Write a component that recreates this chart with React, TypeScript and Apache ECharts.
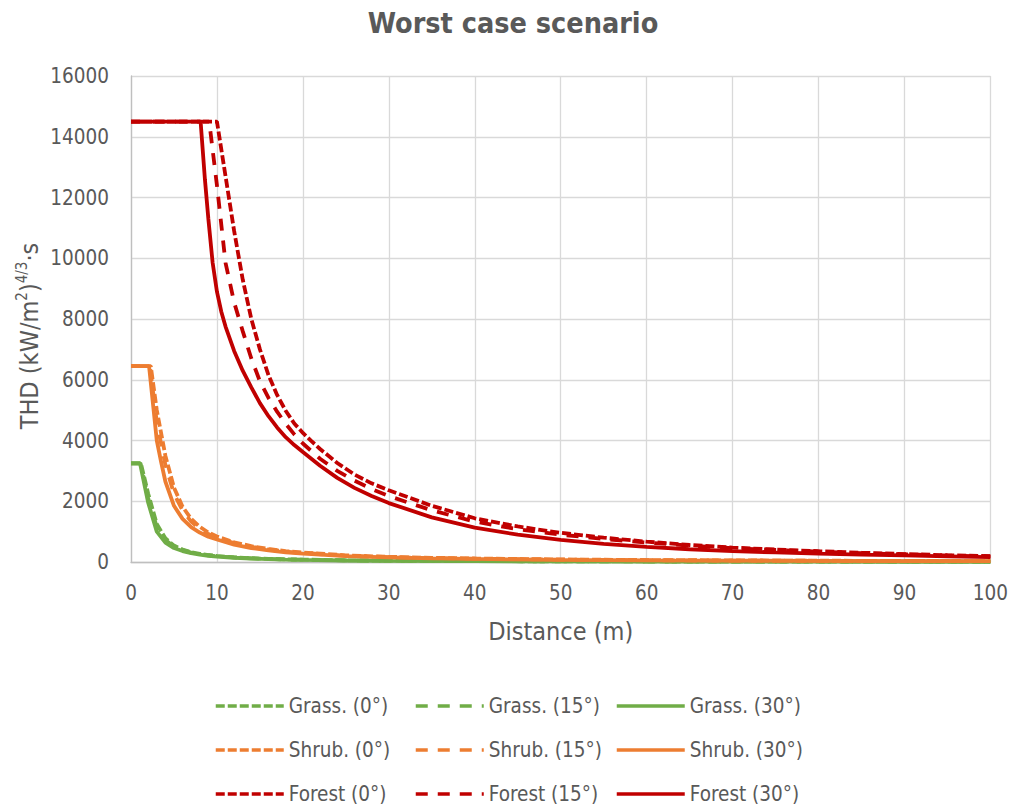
import React, { useEffect, useRef } from "react";
import * as echarts from "echarts";

const FONT = "'Liberation Sans Narrow', 'Arial Narrow', 'DejaVu Sans Condensed', sans-serif";
const TEXT = "#595959";

const xTicks = { min: 0, max: 100, interval: 10 };
const yTicks = { min: 0, max: 16000, interval: 2000 };

const seriesNames = [
  "Grass. (0°)", "Grass. (15°)", "Grass. (30°)",
  "Shrub. (0°)", "Shrub. (15°)", "Shrub. (30°)",
  "Forest (0°)", "Forest (15°)", "Forest (30°)",
];

const grass0X = [0, 1.15, 2, 3, 4, 5, 6, 7, 8, 9, 10, 12, 14, 16, 18, 20, 25, 30, 40, 50, 60, 70, 80, 90, 100];
const grass0Y = [3250, 3250, 2250, 1250, 780, 540, 410, 325, 270, 230, 200, 155, 125, 105, 90, 78, 56, 44, 30, 22, 18, 15, 12, 10, 9];
const grass15X = [0, 1.1, 2, 3, 4, 5, 6, 7, 8, 9, 10, 12, 14, 16, 18, 20, 25, 30, 40, 50, 60, 70, 80, 90, 100];
const grass15Y = [3250, 3250, 2100, 1150, 720, 510, 390, 310, 260, 220, 190, 150, 120, 100, 85, 75, 53, 42, 29, 21, 17, 14, 12, 10, 9];
const grass30X = [0, 1.05, 2, 3, 4, 5, 6, 7, 8, 9, 10, 12, 14, 16, 18, 20, 25, 30, 40, 50, 60, 70, 80, 90, 100];
const grass30Y = [3250, 3250, 1950, 1000, 640, 460, 360, 290, 240, 205, 180, 140, 115, 95, 80, 70, 50, 40, 27, 20, 16, 13, 11, 9, 8];

const shrub0X = [0, 2.3, 3, 4, 5, 6, 7, 8, 9, 10, 12, 14, 16, 18, 20, 25, 30, 35, 40, 50, 60, 70, 80, 90, 100];
const shrub0Y = [6450, 6450, 5000, 3500, 2450, 1820, 1420, 1160, 970, 840, 650, 520, 430, 360, 310, 220, 170, 138, 115, 85, 65, 52, 43, 36, 31];
const shrub15X = [0, 2.2, 3, 4, 5, 6, 7, 8, 9, 10, 12, 14, 16, 18, 20, 25, 30, 35, 40, 50, 60, 70, 80, 90, 100];
const shrub15Y = [6450, 6450, 4600, 3200, 2250, 1700, 1330, 1100, 920, 800, 620, 500, 410, 345, 295, 210, 160, 130, 108, 78, 60, 48, 40, 34, 30];
const shrub30X = [0, 2.1, 3, 3.5, 4, 5, 6, 7, 8, 9, 10, 12, 14, 16, 18, 20, 25, 30, 35, 40, 50, 60, 70, 80, 90, 100];
const shrub30Y = [6450, 6450, 4000, 3300, 2650, 1850, 1420, 1150, 970, 830, 740, 570, 460, 380, 320, 275, 195, 150, 120, 100, 72, 55, 45, 38, 32, 28];

const forest0X = [0, 10, 11, 12, 13, 14, 15, 16, 17, 18, 19, 20, 21, 22, 24, 26, 28, 30, 35, 40, 45, 50, 55, 60, 65, 70, 75, 80, 85, 90, 95, 100];
const forest0Y = [14500, 14500, 12700, 10900, 9300, 8000, 7000, 6150, 5500, 4980, 4560, 4250, 3980, 3720, 3260, 2880, 2590, 2360, 1850, 1440, 1170, 960, 800, 670, 560, 475, 410, 355, 305, 262, 225, 195];
const forest15X = [0, 9.1, 10, 11, 12, 13, 14, 15, 16, 17, 18, 19, 20, 22, 24, 26, 28, 30, 35, 40, 45, 50, 55, 60, 65, 70, 75, 80, 85, 90, 95, 100];
const forest15Y = [14500, 14500, 12400, 9850, 8550, 7600, 6700, 5950, 5400, 4950, 4550, 4200, 3900, 3400, 3000, 2680, 2400, 2170, 1700, 1330, 1080, 900, 760, 640, 540, 455, 395, 340, 290, 250, 215, 185];
const forest30X = [0, 8.1, 8.6, 9, 9.5, 10, 10.5, 11, 12, 13, 14, 15, 16, 17, 18, 19, 20, 22, 24, 26, 28, 30, 35, 40, 45, 50, 55, 60, 65, 70, 75, 80, 85, 90, 95, 100];
const forest30Y = [14500, 14500, 12600, 11300, 9850, 8900, 8250, 7750, 6950, 6300, 5750, 5230, 4800, 4430, 4110, 3850, 3620, 3170, 2770, 2440, 2170, 1940, 1470, 1130, 900, 730, 600, 495, 420, 360, 315, 278, 245, 217, 188, 160];

const GREEN = "#70ad47";
const ORANGE = "#ed7d31";
const RED = "#c00000";
const SHORT_DASH = [9, 3];
const LONG_DASH = [12, 10];

function zip(xs: number[], ys: number[]) {
  return xs.map((x, i) => [x, ys[i]]);
}

const seriesDefs = [
  { name: seriesNames[0], x: grass0X, y: grass0Y, color: GREEN, dash: SHORT_DASH },
  { name: seriesNames[1], x: grass15X, y: grass15Y, color: GREEN, dash: LONG_DASH },
  { name: seriesNames[2], x: grass30X, y: grass30Y, color: GREEN, dash: "solid" },
  { name: seriesNames[3], x: shrub0X, y: shrub0Y, color: ORANGE, dash: SHORT_DASH },
  { name: seriesNames[4], x: shrub15X, y: shrub15Y, color: ORANGE, dash: LONG_DASH },
  { name: seriesNames[5], x: shrub30X, y: shrub30Y, color: ORANGE, dash: "solid" },
  { name: seriesNames[6], x: forest0X, y: forest0Y, color: RED, dash: SHORT_DASH },
  { name: seriesNames[7], x: forest15X, y: forest15Y, color: RED, dash: LONG_DASH },
  { name: seriesNames[8], x: forest30X, y: forest30Y, color: RED, dash: "solid" },
];

export default function App() {
  const ref = useRef<HTMLDivElement>(null);
  useEffect(() => {
    if (!ref.current) return;
    const chart = echarts.init(ref.current, undefined, { renderer: "svg" });
    const legendCols = [0, 1, 2].map((c) => ({
      orient: "vertical",
      left: [214, 414, 615][c],
      top: 695,
      padding: 0,
      itemWidth: 68,
      itemHeight: 14,
      itemGap: 22,
      itemStyle: { opacity: 0 },
      lineStyle: { width: 3.5 },
      data: [seriesNames[c], seriesNames[c + 3], seriesNames[c + 6]],
      textStyle: { fontSize: 20.5, color: TEXT, fontFamily: FONT, lineHeight: 22 },
    }));
    chart.setOption({
      animation: false,
      backgroundColor: "#ffffff",
      textStyle: { fontFamily: FONT },
      grid: { left: 131, right: 20, top: 76, bottom: 248, containLabel: false },
      legend: legendCols,
      graphic: [
        {
          type: "text",
          x: 513,
          y: 23,
          style: {
            text: "Worst case scenario",
            fontSize: 28.5,
            fontWeight: "bold",
            fontFamily: FONT,
            fill: TEXT,
            align: "center",
            verticalAlign: "middle",
          },
        },
        {
          type: "text",
          x: 28,
          y: 336,
          rotation: Math.PI / 2,
          style: {
            text: "{a|THD (kW/m}{b|2}{a|)}{b|4/3}{a|·s}",
            align: "center",
            verticalAlign: "middle",
            rich: {
              a: { fontSize: 25, fontFamily: FONT, fill: TEXT, lineHeight: 27, verticalAlign: "bottom" },
              b: { fontSize: 15, fontFamily: FONT, fill: TEXT, lineHeight: 27, verticalAlign: "top", padding: [0, 0, 11, 0] },
            },
          },
        },
      ],
      xAxis: {
        type: "value",
        min: xTicks.min,
        max: xTicks.max,
        interval: xTicks.interval,
        name: "Distance (m)",
        nameLocation: "middle",
        nameGap: 57,
        nameTextStyle: { fontSize: 25, color: TEXT, fontFamily: FONT },
        axisLine: { show: true, lineStyle: { color: "#bfbfbf", width: 1.3 } },
        axisTick: { show: false },
        axisLabel: { fontSize: 20.5, color: TEXT, fontFamily: FONT, margin: 20, formatter: (v: number) => String(v) },
        splitLine: { show: true, lineStyle: { color: "#d9d9d9", width: 1.3 } },
      },
      yAxis: {
        type: "value",
        min: yTicks.min,
        max: yTicks.max,
        interval: yTicks.interval,
        axisLine: { show: true, lineStyle: { color: "#bfbfbf", width: 1.3 } },
        axisTick: { show: false },
        axisLabel: { fontSize: 20.5, color: TEXT, fontFamily: FONT, margin: 22, formatter: (v: number) => String(v) },
        splitLine: { show: true, lineStyle: { color: "#d9d9d9", width: 1.3 } },
      },
      series: seriesDefs.map((s) => ({
        name: s.name,
        type: "line",
        symbol: "none",
        showSymbol: false,
        data: zip(s.x, s.y),
        lineStyle: { color: s.color, width: 3.8, type: s.dash },
        itemStyle: { color: s.color },
        emphasis: { disabled: true },
      })),
    });
    return () => chart.dispose();
  }, []);
  return (
    <div
      ref={ref}
      style={{ position: "fixed", left: 0, top: 0, width: 1011, height: 810 }}
    />
  );
}
